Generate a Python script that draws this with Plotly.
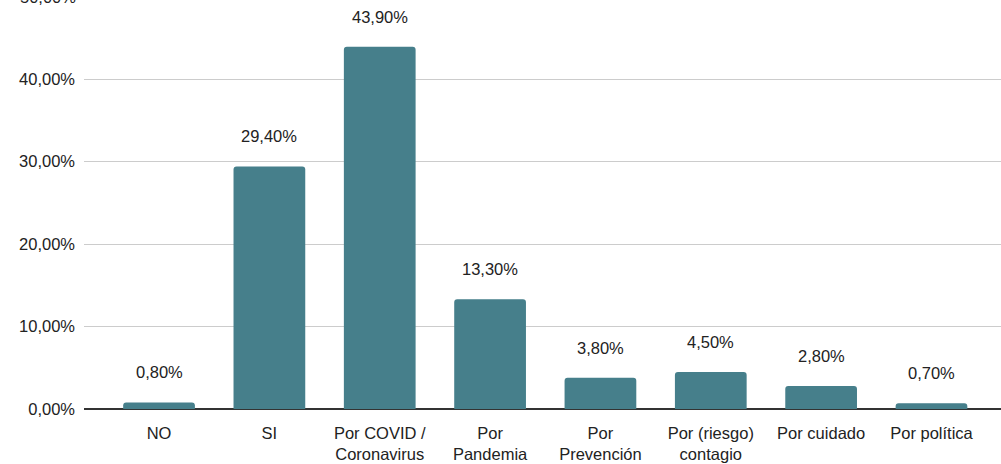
import plotly.graph_objects as go

# Survey answers and their share of respondents (%)
categories = ["NO", "SI", "Por COVID /<br>Coronavirus", "Por<br>Pandemia",
              "Por<br>Prevención", "Por (riesgo)<br>contagio", "Por cuidado", "Por política"]
values = [0.8, 29.4, 43.9, 13.3, 3.8, 4.5, 2.8, 0.7]
value_labels = ["0,80%", "29,40%", "43,90%", "13,30%", "3,80%", "4,50%", "2,80%", "0,70%"]
y_ticks = [0, 10, 20, 30, 40]
y_tick_text = ["0,00%", "10,00%", "20,00%", "30,00%", "40,00%"]

BAR_COLOR = "#467f8b"
FONT = "Liberation Sans, Arial, sans-serif"
FONT_SIZE = 16.5
TEXT_COLOR = "#222222"

x_idx = list(range(len(categories)))

fig = go.Figure(go.Bar(
    x=x_idx,
    y=values,
    width=0.65,
    marker=dict(color=BAR_COLOR, cornerradius=3, line=dict(width=0)),
    hoverinfo="skip",
))

# value labels floating above each bar
for i, (v, lab) in enumerate(zip(values, value_labels)):
    fig.add_annotation(x=i, y=v, text=lab, showarrow=False,
                       xref="x", yref="y", yanchor="middle", yshift=30,
                       font=dict(family=FONT, size=FONT_SIZE, color=TEXT_COLOR))

# top tick label sitting just above the visible plot area
fig.add_annotation(x=0, y=1, xref="paper", yref="paper", text="50,00%",
                   showarrow=False, xanchor="right", yanchor="middle",
                   xshift=-6, yshift=3.5,
                   font=dict(family=FONT, size=FONT_SIZE, color=TEXT_COLOR))

fig.update_layout(
    width=1001, height=464,
    margin=dict(l=84, r=0, t=0, b=55),
    paper_bgcolor="white", plot_bgcolor="white",
    showlegend=False,
    font=dict(family=FONT, size=FONT_SIZE, color=TEXT_COLOR),
    bargap=0.35,
)
fig.update_xaxes(
    range=[-0.68, 7.63],
    tickmode="array", tickvals=x_idx, ticktext=categories,
    showgrid=False, zeroline=False,
    showline=False, ticks="", ticklabelstandoff=12,
    tickfont=dict(family=FONT, size=FONT_SIZE, color=TEXT_COLOR),
)
fig.update_yaxes(
    range=[0, 49.58],
    tickmode="array", tickvals=y_ticks, ticktext=y_tick_text,
    showgrid=True, gridcolor="#cccccc", gridwidth=1,
    zeroline=True, zerolinecolor="#333333", zerolinewidth=1.5,
    showline=False, ticks="", ticklabelstandoff=8,
    tickfont=dict(family=FONT, size=FONT_SIZE, color=TEXT_COLOR),
)

fig.write_html("out.html")
